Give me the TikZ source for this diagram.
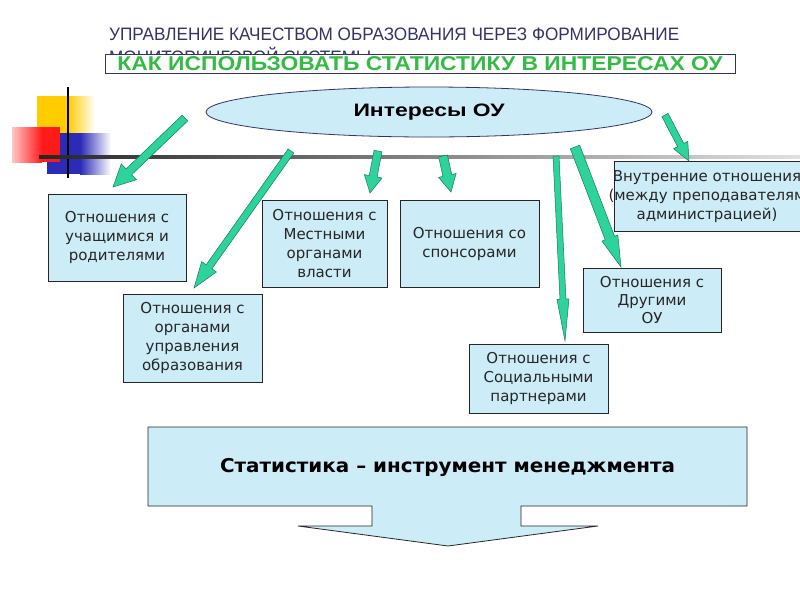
\documentclass[tikz,border=0pt]{standalone}
\usepackage{fontspec}
\setmainfont{DejaVu Sans}
\newfontfamily\titlefont{Liberation Sans}
\usetikzlibrary{calc,shapes.geometric}

\definecolor{boxblue}{HTML}{CCECF8}
\definecolor{arrowgreen}{HTML}{2ED39B}
\definecolor{arrowedge}{HTML}{1A7A5A}
\definecolor{titlenavy}{HTML}{333366}
\definecolor{titlegreen}{HTML}{33BB44}
\definecolor{decoyellow}{HTML}{FFCC00}
\definecolor{decored}{HTML}{FF1A1A}
\definecolor{decoblue}{HTML}{2B2BB8}

\tikzset{
  rel/.style={draw=black!85, fill=boxblue, line width=0.8pt, align=center,
    inner sep=0pt, font=\fontsize{15}{19}\selectfont, text=black!85},
  reltext/.style={align=center, inner sep=0pt, font=\fontsize{15}{19}\selectfont, text=black!85},
  grarrow/.style={fill=arrowgreen, draw=arrowedge, line width=0.5pt, line join=miter},
}

% block arrow: shaft half width, head half width, head length, from, to
\newcommand{\grarrow}[5]{%
  \coordinate (hb) at ($(#5)!#3pt!(#4)$);
  \filldraw[grarrow] ($(#4)!#1pt!90:(#5)$) -- ($(hb)!#1pt!90:(#5)$) -- ($(hb)!#2pt!90:(#5)$)
    -- (#5) -- ($(hb)!#2pt!-90:(#5)$) -- ($(hb)!#1pt!-90:(#5)$) -- ($(#4)!#1pt!-90:(#5)$) -- cycle;
}

\begin{document}
\begin{tikzpicture}[x=1pt, y=-1pt]
  \useasboundingbox (0,0) rectangle (800,600);
  \fill[white] (0,0) rectangle (800,600);

  % corner decoration
  \fill[decoyellow] (37,96) rectangle (68,140);
  \shade[left color=decoyellow, right color=white] (68,96) rectangle (95,140);
  \fill[decoblue] (47,133) rectangle (80,174);
  \shade[left color=decoblue, right color=white] (80,133) rectangle (111,174);
  \shade[left color=decored!25, right color=decored] (12,127) rectangle (42,162);
  \fill[decored] (42,127) rectangle (60,162);
  \draw[black, line width=1.5pt] (68,87) -- (68,178);
  \shade[left color=black!85, right color=black!12] (39,155.5) rectangle (800,158.5);

  % titles
  \node[anchor=west, inner sep=0pt, text=titlenavy] (head) at (109,34)
    {\titlefont\resizebox{570pt}{\height}{\fontsize{18}{20}\selectfont УПРАВЛЕНИЕ КАЧЕСТВОМ ОБРАЗОВАНИЯ ЧЕРЕЗ ФОРМИРОВАНИЕ}};
  \node[anchor=west, inner sep=0pt, text=titlenavy] (head2) at (109,55)
    {\titlefont\resizebox{262pt}{\height}{\fontsize{18}{20}\selectfont МОНИТОРИНГОВОЙ СИСТЕМЫ}};
  \node[draw=titlenavy, fill=white, line width=0.8pt, minimum width=630pt, minimum height=19pt,
    inner sep=0pt, text=titlegreen] (howto) at (420,64)
    {\titlefont\bfseries\resizebox{605pt}{\height}{\fontsize{20}{22}\selectfont КАК ИСПОЛЬЗОВАТЬ СТАТИСТИКУ В ИНТЕРЕСАХ ОУ}};

  % interests
  \node[ellipse, draw=titlenavy, fill=boxblue, line width=0.8pt, minimum width=446pt,
    minimum height=50pt, inner sep=0pt] (interest) at (429,112)
    {\titlefont\bfseries\resizebox{151pt}{\height}{\fontsize{18}{20}\selectfont Интересы ОУ}};

  % relations
  \node[rel, minimum width=138pt, minimum height=87pt] (pupils) at (117,237.5)
    {Отношения с\\учащимися и\\родителями};
  \node[rel, minimum width=139pt, minimum height=88pt] (govern) at (192.5,338)
    {Отношения с\\органами\\управления\\образования};
  \node[rel, minimum width=125pt, minimum height=87pt] (local) at (324.5,243.5)
    {Отношения с\\Местными\\органами\\власти};
  \node[rel, minimum width=139pt, minimum height=87pt] (sponsor) at (469.5,243.5)
    {Отношения со\\спонсорами};
  \node[rel, minimum width=220pt, minimum height=70pt] (inner) at (724,196) {};
  \node[reltext] (innertext) at (707,197)
    {Внутренние отношения\\(между преподавателям\\администрацией)};
  \node[rel, minimum width=138pt, minimum height=64pt, font=\fontsize{15}{18}\selectfont] (other) at (652,300)
    {Отношения с\\Другими\\ОУ};
  \node[rel, minimum width=139pt, minimum height=69pt] (social) at (538.5,378.5)
    {Отношения с\\Социальными\\партнерами};

  % arrows
  \coordinate (t1) at (185,118); \coordinate (h1) at (113,187);
  \coordinate (t2) at (291,151); \coordinate (h2) at (194,288);
  \coordinate (t3) at (378,151); \coordinate (h3) at (370,193);
  \coordinate (t4) at (443,156); \coordinate (h4) at (451,192);
  \coordinate (t5) at (556,156); \coordinate (h5) at (565,341);
  \coordinate (t6) at (575,147); \coordinate (h6) at (621,267);
  \coordinate (t7) at (665,115); \coordinate (h7) at (689,161);
  \grarrow{4}{11}{22}{t1}{h1}
  \grarrow{3.5}{9}{26}{t2}{h2}
  \grarrow{4}{9}{17}{t3}{h3}
  \grarrow{4.5}{9}{17}{t4}{h4}
  \grarrow{3}{6}{42}{t5}{h5}
  \grarrow{5}{8.5}{31}{t6}{h6}
  \grarrow{3.5}{8}{18}{t7}{h7}

  % statistics
  \draw[fill=boxblue, draw=black!85, line width=0.8pt] (148,427) -- (747,427) -- (747,506)
    -- (521,506) -- (521,526) -- (598,526) -- (448,546) -- (298,526) -- (372,526)
    -- (372,506) -- (148,506) -- cycle;
  \node[inner sep=0pt, text=black] (stat) at (447.5,467)
    {\bfseries\resizebox{455pt}{\height}{\fontsize{19}{22}\selectfont Статистика – инструмент менеджмента}};
\end{tikzpicture}
\end{document}
